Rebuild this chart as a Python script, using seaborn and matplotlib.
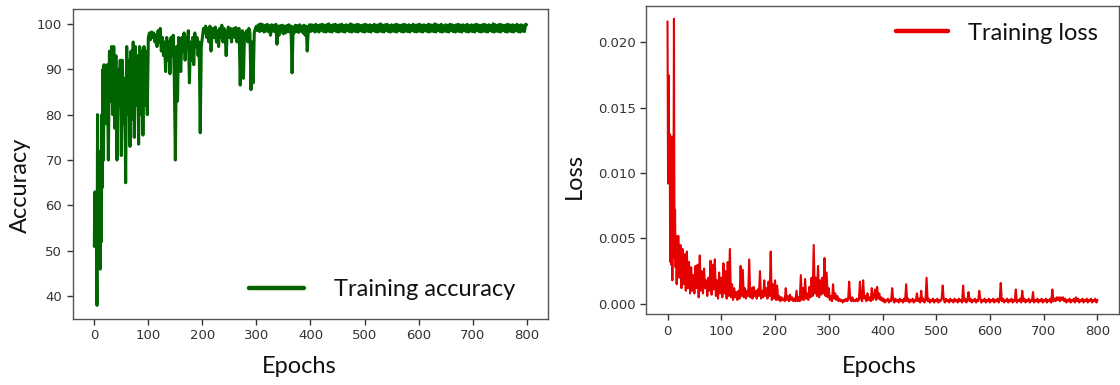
import numpy as np
import pandas as pd
import matplotlib
matplotlib.use("Agg")
import matplotlib.pyplot as plt
import seaborn as sns

# ---------------- data ----------------
epochs = list(range(0, 20)) + list(range(20, 801, 2))

acc_0_19 = [51, 63, 55, 62, 50, 38, 80, 46, 72, 50, 70, 46, 64, 52, 80, 64, 90, 70, 91, 82]
acc_20_98 = [90, 78, 91, 70, 94, 83, 95, 80, 95, 77, 93, 70, 90, 82, 92, 71, 92, 78, 88, 65,
             95, 80, 92, 73, 94, 79, 96, 75, 95, 82, 93, 73.5, 95, 80, 94, 75.5, 95, 82, 94, 80]
acc_100_198 = [97, 98, 96.5, 98.2, 97, 98, 96, 97.5, 95, 98.5, 96, 99, 94, 97, 93, 96, 89.5, 97, 92, 96,
               89, 97, 93, 97.5, 88, 70, 95, 83, 97, 92, 89.5, 97, 94, 98, 92, 97, 95, 98.5, 87, 96,
               92, 97, 91, 98, 95, 97, 93, 96, 76, 95]
acc_200_298 = [97, 99, 98, 99.5, 97, 99, 96, 99.5, 94, 98, 99, 97, 99.3, 96, 98.5, 95, 99, 97, 99.7, 96,
               99, 98, 93, 98, 99.3, 97, 99, 96, 98.5, 99, 97, 99.2, 96, 98.5, 99, 86.5, 97, 98.5, 88, 98,
               97, 98.5, 96, 99, 98, 85.5, 96, 87, 98, 99]
acc_300_398 = [99.5, 98.5, 99.8, 98.3, 100, 98.5, 99.8, 98.2, 99.7, 98.4,
               99.9, 98.3, 99.6, 97.5, 99.8, 98.4, 99.7, 98.3, 99.9, 95.5,
               99.5, 97.5, 99.6, 98.2, 99.7, 97.8, 99.5, 98.0, 99.6, 98.3,
               99.8, 98.2, 99.5, 89.2, 99.3, 98.0, 99.7, 98.3, 99.6, 98.1,
               99.8, 98.4, 99.5, 98.0, 99.7, 97.5, 99.5, 94.0, 98.5, 99.8]
acc_400_800 = [98.3, 99.8, 98.5, 99.7, 98.2, 99.9, 98.4, 99.6, 98.2, 99.8,
               98.6, 99.9, 98.3, 99.7, 98.2, 99.8, 98.4, 100, 98.3, 99.6,
               98.2, 99.8, 98.5, 99.9, 98.3, 99.7, 98.2, 99.8, 98.4, 99.9,
               98.3, 99.6, 98.2, 99.8, 98.5, 99.7, 98.3, 100, 98.2, 99.8,
               98.4, 99.7, 98.3, 99.9, 98.2, 99.8, 98.5, 99.6, 98.3, 99.8,
               98.2, 99.9, 98.4, 99.7, 98.3, 99.8, 98.2, 99.6, 98.5, 99.9,
               98.3, 99.7, 98.2, 99.8, 98.4, 100, 98.3, 99.7, 98.2, 99.8,
               98.5, 99.9, 98.3, 99.6, 98.2, 99.8, 98.4, 99.7, 98.3, 99.9,
               98.2, 99.8, 98.5, 99.6, 98.3, 99.8, 98.2, 99.9, 98.4, 99.7,
               98.3, 99.8, 98.2, 99.6, 98.5, 99.9, 98.3, 99.7, 98.2, 99.8,
               98.4, 99.9, 98.3, 99.7, 98.2, 99.8, 98.5, 99.6, 98.3, 99.9,
               98.2, 99.8, 98.4, 99.7, 98.3, 100, 98.2, 99.8, 98.5, 99.7,
               98.3, 99.9, 98.2, 99.6, 98.4, 99.8, 98.3, 99.7, 98.2, 99.9,
               98.5, 99.8, 98.3, 99.6, 98.2, 99.8, 98.4, 99.9, 98.3, 99.7,
               98.2, 99.8, 98.5, 99.7, 98.3, 99.9, 98.2, 99.6, 98.4, 99.8,
               98.3, 99.7, 98.2, 99.9, 98.5, 99.8, 98.3, 99.6, 98.2, 99.8,
               98.4, 99.9, 98.3, 99.7, 98.2, 99.8, 98.5, 99.6, 98.3, 100,
               98.2, 99.8, 98.4, 99.7, 98.3, 99.9, 98.2, 99.8, 98.5, 99.6,
               98.3, 99.8, 98.2, 99.9, 98.4, 99.7, 98.3, 99.8, 98.2, 99.6,
               98.5, 99.9, 98.3, 99.7, 98.2, 99.8, 98.4, 99.6, 98.3, 99.9,
               99.8]

loss_0_19 = [0.0216, 0.0092, 0.0175, 0.0100, 0.0130, 0.0032, 0.0118, 0.0030, 0.0128, 0.0018,
             0.0110, 0.0060, 0.0218, 0.0035, 0.0072, 0.0028, 0.0052, 0.0015, 0.0044, 0.0022]
loss_20_98 = [0.0052, 0.0020, 0.0045, 0.0012, 0.0042, 0.0015, 0.0038, 0.0010, 0.0040, 0.0012,
              0.0032, 0.0008, 0.0028, 0.0010, 0.0022, 0.0008, 0.0029, 0.0012, 0.0030, 0.0005,
              0.0037, 0.0010, 0.0025, 0.0008, 0.0027, 0.0012, 0.0018, 0.0006, 0.0020, 0.0010,
              0.0033, 0.0007, 0.0030, 0.0011, 0.0034, 0.0006, 0.0018, 0.0004, 0.0024, 0.0008]
loss_100_198 = [0.0020, 0.0005, 0.0031, 0.0008, 0.0025, 0.0004, 0.0032, 0.0006, 0.0042, 0.0005,
                0.0015, 0.0003, 0.0012, 0.0005, 0.0009, 0.0003, 0.0010, 0.0004, 0.0029, 0.0006,
                0.0026, 0.0005, 0.0012, 0.0004, 0.0010, 0.0006, 0.0034, 0.0005, 0.0012, 0.0004,
                0.0013, 0.0006, 0.0010, 0.0004, 0.0011, 0.0006, 0.0025, 0.0004, 0.0010, 0.0005,
                0.0018, 0.0006, 0.0012, 0.0004, 0.0017, 0.0006, 0.0040, 0.0003, 0.0015, 0.0004]
loss_200_298 = [0.0018, 0.0003, 0.0014, 0.0003, 0.0006, 0.0002, 0.0005, 0.0003, 0.0004, 0.0002,
                0.0012, 0.0003, 0.0006, 0.0002, 0.0007, 0.0003, 0.0005, 0.0002, 0.0004, 0.0002,
                0.0010, 0.0002, 0.0005, 0.0002, 0.0022, 0.0003, 0.0012, 0.0003, 0.0019, 0.0004,
                0.0008, 0.0003, 0.0013, 0.0005, 0.0020, 0.0006, 0.0045, 0.0008, 0.0020, 0.0006,
                0.0029, 0.0005, 0.0018, 0.0007, 0.0020, 0.0008, 0.0035, 0.0006, 0.0024, 0.0005]
loss_300_398 = [0.0012, 0.0003, 0.0006, 0.0002, 0.0015, 0.0004, 0.0008, 0.0003, 0.0006, 0.0002,
                0.0004, 0.0002, 0.0003, 0.0001, 0.0003, 0.0002, 0.0004, 0.0002, 0.0003, 0.0017,
                0.0004, 0.0002, 0.0005, 0.0002, 0.0003, 0.0002, 0.0004, 0.0002, 0.0003, 0.0017,
                0.0004, 0.0002, 0.0018, 0.0004, 0.0006, 0.0002, 0.0008, 0.0003, 0.0005, 0.0002,
                0.0012, 0.0003, 0.0005, 0.0011, 0.0003, 0.0013, 0.0004, 0.0008, 0.0003, 0.0005]
loss_400_800 = [0.0002, 0.0004, 0.0001, 0.0003, 0.0002, 0.0004, 0.0001, 0.0003, 0.0002, 0.0012,
                0.0003, 0.0001, 0.0004, 0.0002, 0.0003, 0.0001, 0.0004, 0.0002, 0.0003, 0.0001,
                0.0004, 0.0002, 0.0015, 0.0002, 0.0004, 0.0001, 0.0003, 0.0002, 0.0004, 0.0001,
                0.0003, 0.0002, 0.0008, 0.0002, 0.0004, 0.0001, 0.0010, 0.0002, 0.0004, 0.0001,
                0.0003, 0.0020, 0.0002, 0.0004, 0.0001, 0.0003, 0.0002, 0.0004, 0.0001, 0.0003,
                0.0002, 0.0004, 0.0001, 0.0003, 0.0002, 0.0004, 0.0014, 0.0003, 0.0001, 0.0004,
                0.0002, 0.0003, 0.0001, 0.0004, 0.0002, 0.0003, 0.0001, 0.0004, 0.0002, 0.0003,
                0.0001, 0.0004, 0.0002, 0.0003, 0.0001, 0.0014, 0.0002, 0.0004, 0.0001, 0.0003,
                0.0009, 0.0002, 0.0004, 0.0001, 0.0003, 0.0002, 0.0004, 0.0001, 0.0003, 0.0002,
                0.0010, 0.0004, 0.0001, 0.0003, 0.0002, 0.0004, 0.0001, 0.0003, 0.0002, 0.0004,
                0.0001, 0.0003, 0.0002, 0.0004, 0.0001, 0.0003, 0.0002, 0.0004, 0.0001, 0.0003,
                0.0016, 0.0002, 0.0004, 0.0001, 0.0003, 0.0002, 0.0004, 0.0001, 0.0003, 0.0002,
                0.0004, 0.0001, 0.0003, 0.0002, 0.0011, 0.0001, 0.0003, 0.0002, 0.0004, 0.0001,
                0.0010, 0.0002, 0.0004, 0.0001, 0.0003, 0.0002, 0.0004, 0.0001, 0.0003, 0.0002,
                0.0009, 0.0001, 0.0003, 0.0002, 0.0004, 0.0001, 0.0003, 0.0002, 0.0004, 0.0001,
                0.0003, 0.0002, 0.0004, 0.0001, 0.0003, 0.0002, 0.0004, 0.0001, 0.0011, 0.0002,
                0.0004, 0.0002, 0.0005, 0.0003, 0.0005, 0.0002, 0.0005, 0.0003, 0.0005, 0.0002,
                0.0004, 0.0001, 0.0003, 0.0002, 0.0004, 0.0001, 0.0003, 0.0002, 0.0004, 0.0001,
                0.0005, 0.0002, 0.0004, 0.0001, 0.0003, 0.0002, 0.0004, 0.0001, 0.0003, 0.0002,
                0.0004, 0.0001, 0.0003, 0.0002, 0.0004, 0.0001, 0.0003, 0.0002, 0.0004, 0.0001,
                0.0003]

accuracy = acc_0_19 + acc_20_98 + acc_100_198 + acc_200_298 + acc_300_398 + acc_400_800
loss = loss_0_19 + loss_20_98 + loss_100_198 + loss_200_298 + loss_300_398 + loss_400_800
assert len(accuracy) == len(epochs) == len(loss), (len(accuracy), len(epochs), len(loss))

acc_yticks = [40, 50, 60, 70, 80, 90, 100]
loss_yticks = [0.000, 0.005, 0.010, 0.015, 0.020]
xticks = [0, 100, 200, 300, 400, 500, 600, 700, 800]

df = pd.DataFrame({"Epochs": epochs, "Accuracy": accuracy, "Loss": loss})

# ---------------- style ----------------
sns.set_theme(style="ticks")
plt.rcParams["font.family"] = ["DejaVu Sans"]
label_font = ["Lato", "DejaVu Sans"]

fig = plt.figure(figsize=(11.2, 3.85), dpi=100)
ax1 = fig.add_axes([0.0649, 0.1714, 0.4246, 0.8044])
ax2 = fig.add_axes([0.5768, 0.1836, 0.4223, 0.8016])

green = "#006400"
red = "#e60000"

sns.lineplot(data=df, x="Epochs", y="Accuracy", ax=ax1, color=green, linewidth=2.2,
             label="Training accuracy")
sns.lineplot(data=df, x="Epochs", y="Loss", ax=ax2, color=red, linewidth=1.5,
             label="Training loss")

for ax in (ax1, ax2):
    ax.set_xlim(-40, 840)
    ax.set_xticks(xticks)
    ax.tick_params(axis="both", labelsize=9.5, colors="#333333", length=4, width=1)
    for sp in ax.spines.values():
        sp.set_color("#555555")
        sp.set_linewidth(1.0)
    ax.set_xlabel("Epochs", fontsize=17, family=label_font, color="#111111")

ax1.set_ylim(35.0, 103.2)
ax1.set_yticks(acc_yticks)
ax1.set_ylabel("Accuracy", fontsize=17, family=label_font, color="#111111")
ax1.yaxis.set_label_coords(-0.087, 0.43)
ax1.xaxis.set_label_coords(0.476, -0.118)

ax2.set_ylim(-0.0008, 0.0228)
ax2.set_yticks(loss_yticks)
ax2.set_yticklabels([f"{v:.3f}" for v in loss_yticks])
ax2.set_ylabel("Loss", fontsize=17, family=label_font, color="#111111")
ax2.yaxis.set_label_coords(-0.130, 0.448)
ax2.xaxis.set_label_coords(0.493, -0.134)

leg1 = ax1.legend(loc="center left", bbox_to_anchor=(0.222, 0.247), bbox_transform=fig.transFigure,
                  frameon=False, borderpad=0, borderaxespad=0, handlelength=2.35, handletextpad=1.25,
                  prop={"family": label_font, "size": 17})
leg2 = ax2.legend(loc="center left", bbox_to_anchor=(0.800, 0.914), bbox_transform=fig.transFigure,
                  frameon=False, borderpad=0, borderaxespad=0, handlelength=2.2, handletextpad=0.85,
                  prop={"family": label_font, "size": 17})
for leg in (leg1, leg2):
    for ln in leg.get_lines():
        ln.set_linewidth(3.2)
    for t in leg.get_texts():
        t.set_color("#111111")

fig.savefig("out.png", dpi=100)
